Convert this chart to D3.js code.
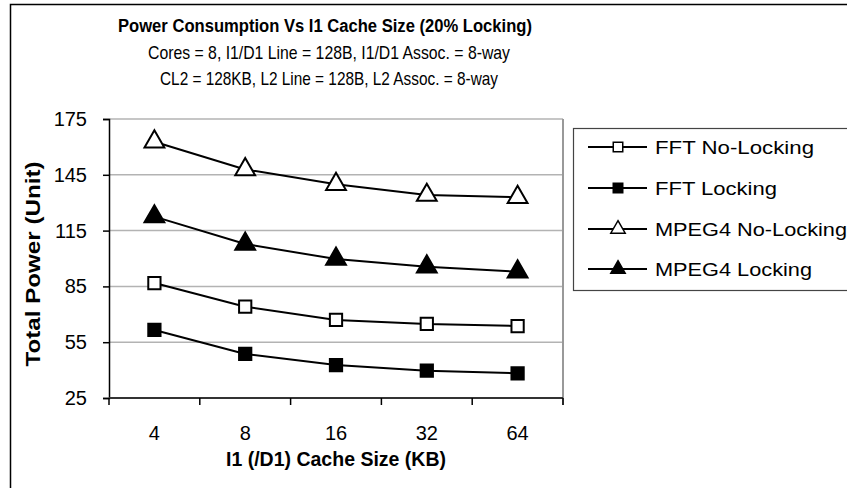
<!DOCTYPE html>
<html>
<head>
<meta charset="utf-8">
<script src="https://cdn.jsdelivr.net/npm/d3@7"></script>
<style>
  body { margin: 0; background: #fff; }
  svg { display: block; font-family: "Liberation Sans", Arial, sans-serif; }
</style>
</head>
<body>
<div id="chart"></div>
<script>
// data
var cacheSizes = ["4", "8", "16", "32", "64"];
var seriesNames = ["FFT No-Locking", "FFT Locking", "MPEG4 No-Locking", "MPEG4 Locking"];
var fftNoLock = [86.8, 74.1, 67.0, 64.8, 63.7];
var fftLock = [61.6, 48.7, 42.7, 39.7, 38.3];
var mpegNoLock = [162.8, 147.9, 139.9, 134.1, 132.9];
var mpegLock = [122.5, 107.8, 99.7, 95.6, 92.9];
var yTicks = [25, 55, 85, 115, 145, 175];

var series = [
  {name: seriesNames[0], values: fftNoLock, shape: "square", fill: "#fff", w: 159},
  {name: seriesNames[1], values: fftLock, shape: "square", fill: "#000", w: 122},
  {name: seriesNames[2], values: mpegNoLock, shape: "triangle", fill: "#fff", w: 192},
  {name: seriesNames[3], values: mpegLock, shape: "triangle", fill: "#000", w: 157}
];

var W = 847, H = 488;
var plot = {left: 109, right: 563, top: 119, bottom: 398};

var svg = d3.select("#chart").append("svg")
    .attr("width", W)
    .attr("height", H);

// outer chart frame (runs off the image at right/bottom)
svg.append("rect")
    .attr("x", 10.5).attr("y", 4.5)
    .attr("width", 900).attr("height", 600)
    .attr("fill", "#fff")
    .attr("stroke", "#000")
    .attr("stroke-width", 1.5);

var x = d3.scaleBand()
    .domain(cacheSizes)
    .range([plot.left, plot.right]);

var y = d3.scaleLinear()
    .domain([25, 175])
    .range([plot.bottom, plot.top]);

// gridlines
svg.append("g")
  .selectAll("line")
  .data(yTicks.slice(1))
  .enter().append("line")
    .attr("x1", plot.left).attr("x2", plot.right)
    .attr("y1", function(d) { return y(d); })
    .attr("y2", function(d) { return y(d); })
    .attr("stroke", "#b3b3b3")
    .attr("stroke-width", 1.5);

// right border of plot area
svg.append("line")
    .attr("x1", plot.right).attr("x2", plot.right)
    .attr("y1", plot.top).attr("y2", plot.bottom + 7)
    .attr("stroke", "#999")
    .attr("stroke-width", 2);

// y axis
var yAxis = svg.append("g")
    .attr("transform", "translate(" + plot.left + ",0)")
    .call(d3.axisLeft(y).tickValues(yTicks).tickSize(6).tickPadding(16));
yAxis.select(".domain").attr("stroke", "#000").attr("stroke-width", 1.5);
yAxis.selectAll(".tick line").attr("stroke", "#000").attr("stroke-width", 1.5);
yAxis.selectAll("text")
    .attr("font-family", "Liberation Sans, Arial, sans-serif")
    .attr("font-size", 20)
    .attr("fill", "#000");

// x axis: ticks at band boundaries
var xAxisG = svg.append("g")
    .attr("transform", "translate(0," + plot.bottom + ")");
xAxisG.append("line")
    .attr("x1", plot.left).attr("x2", plot.right)
    .attr("stroke", "#333").attr("stroke-width", 2);
var bounds = cacheSizes.map(function(c) { return x(c); }).concat([plot.right]);
xAxisG.selectAll(".xt")
  .data(bounds)
  .enter().append("line")
    .attr("class", "xt")
    .attr("x1", function(d) { return d; }).attr("x2", function(d) { return d; })
    .attr("y1", 0).attr("y2", 7)
    .attr("stroke", "#000").attr("stroke-width", 1.5);
xAxisG.selectAll("text")
  .data(cacheSizes)
  .enter().append("text")
    .attr("x", function(d) { return x(d) + x.bandwidth() / 2; })
    .attr("y", 35)
    .attr("dy", "0.35em")
    .attr("text-anchor", "middle")
    .attr("font-size", 20)
    .text(function(d) { return d; });

// lines and markers
var line = d3.line()
    .x(function(d, i) { return x(cacheSizes[i]) + x.bandwidth() / 2; })
    .y(function(d) { return y(d); });

var sym = {
  square: d3.symbol().type(d3.symbolSquare).size(150),
  triangle: d3.symbol().type(d3.symbolTriangle).size(170)
};

series.forEach(function(s) {
  svg.append("path")
      .datum(s.values)
      .attr("d", line)
      .attr("fill", "none")
      .attr("stroke", "#000")
      .attr("stroke-width", 2);
  svg.append("g").selectAll("path")
    .data(s.values)
    .enter().append("path")
      .attr("transform", function(d, i) {
        return "translate(" + (x(cacheSizes[i]) + x.bandwidth() / 2) + "," + y(d) + ")";
      })
      .attr("d", sym[s.shape])
      .attr("fill", s.fill)
      .attr("stroke", "#000")
      .attr("stroke-width", 2);
});

// titles
svg.append("text")
    .attr("x", 325).attr("y", 32)
    .attr("text-anchor", "middle")
    .attr("font-size", 18)
    .attr("font-weight", "bold")
    .attr("textLength", 414).attr("lengthAdjust", "spacingAndGlyphs")
    .text("Power Consumption Vs I1 Cache Size (20% Locking)");
svg.append("text")
    .attr("x", 329).attr("y", 59)
    .attr("text-anchor", "middle")
    .attr("font-size", 18.5)
    .attr("textLength", 362).attr("lengthAdjust", "spacingAndGlyphs")
    .text("Cores = 8, I1/D1 Line = 128B, I1/D1 Assoc. = 8-way");
svg.append("text")
    .attr("x", 329).attr("y", 85)
    .attr("text-anchor", "middle")
    .attr("font-size", 18.5)
    .attr("textLength", 338).attr("lengthAdjust", "spacingAndGlyphs")
    .text("CL2 = 128KB, L2 Line = 128B, L2 Assoc. = 8-way");

svg.append("text")
    .attr("x", 336).attr("y", 466)
    .attr("text-anchor", "middle")
    .attr("font-size", 19.5)
    .attr("font-weight", "bold")
    .text("I1 (/D1) Cache Size (KB)");

svg.append("text")
    .attr("transform", "translate(40,264) rotate(-90)")
    .attr("text-anchor", "middle")
    .attr("font-size", 19.5)
    .attr("font-weight", "bold")
    .attr("textLength", 205).attr("lengthAdjust", "spacingAndGlyphs")
    .text("Total Power (Unit)");

// legend
var legend = svg.append("g");
legend.append("rect")
    .attr("x", 573.5).attr("y", 128.5)
    .attr("width", 400).attr("height", 162)
    .attr("fill", "#fff")
    .attr("stroke", "#444")
    .attr("stroke-width", 1.2);

var rowY = [147, 188, 229, 269];
series.forEach(function(s, i) {
  var g = legend.append("g").attr("transform", "translate(0," + rowY[i] + ")");
  g.append("line")
      .attr("x1", 588).attr("x2", 647)
      .attr("stroke", "#000").attr("stroke-width", 2);
  g.append("path")
      .attr("transform", "translate(618,0)")
      .attr("d", d3.symbol().type(s.shape === "square" ? d3.symbolSquare : d3.symbolTriangle).size(90))
      .attr("fill", s.fill)
      .attr("stroke", "#000")
      .attr("stroke-width", 1.5);
  g.append("text")
      .attr("x", 655)
      .attr("dy", "0.36em")
      .attr("font-size", 19)
      .attr("textLength", s.w).attr("lengthAdjust", "spacingAndGlyphs")
      .text(s.name);
});
</script>
</body>
</html>
